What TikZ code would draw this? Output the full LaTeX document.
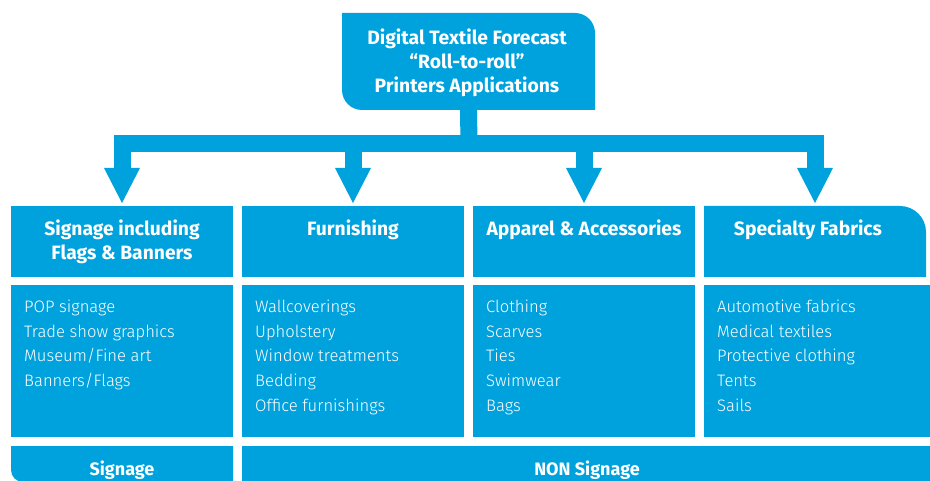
\documentclass[tikz,border=0pt]{standalone}
\usepackage{fontspec}
\setmainfont{Fira Sans}
\newfontfamily\lightfont{Fira Sans Light}
\usetikzlibrary{arrows.meta}
\definecolor{hpblue}{RGB}{0,162,222}
\begin{document}
\begin{tikzpicture}[x=1pt,y=-1pt,
  shape0/.style={inner sep=0pt, outer sep=0pt, anchor=north west},
  hbox/.style={shape0, fill=hpblue, minimum width=222pt, minimum height=71pt},
  bbox/.style={shape0, fill=hpblue, minimum width=222pt, minimum height=152pt},
  htext/.style={text=white, font=\bfseries\fontsize{19.3}{24}\selectfont, anchor=base, inner sep=0pt},
  stext/.style={htext, font=\bfseries\fontsize{18}{24}\selectfont},
  btext/.style={text=white, font=\lightfont\fontsize{16.6}{24}\selectfont, anchor=base west, inner sep=0pt},
  fat/.style={draw=hpblue, line width=17pt, line join=miter},
  bigtip/.tip={Triangle[width=36pt,length=35pt,line width=0pt]}]
\useasboundingbox (0,0) rectangle (930,481);

% top box
\node[inner sep=0pt, outer sep=0pt, minimum width=253pt, minimum height=97pt] (top) at (468.5,61.5) {};
\fill[hpblue] (top.north west) -- ([xshift=-20pt]top.north east)
  arc[start angle=90,end angle=0,radius=20pt] -- (top.south east)
  -- ([xshift=20pt]top.south west) arc[start angle=270,end angle=180,radius=20pt] -- cycle;
\node[htext] (t1) at (467,45) {Digital Textile Forecast};
\node[htext] (t2) at (467,69) {“Roll-to-roll”};
\node[htext] (t3) at (467,93) {Printers Applications};

% header boxes
\node[hbox] (h1) at (11,206) {};
\node[hbox] (h2) at (242,206) {};
\node[hbox] (h3) at (473,206) {};
\node[hbox, fill=none] (h4) at (704,206) {};
\fill[hpblue] (h4.south west) -- (h4.north west) -- ([xshift=-26pt]h4.north east)
  arc[start angle=90,end angle=0,radius=26pt] -- (h4.south east) -- cycle;

\node[htext] (h1a) at (122,236) {Signage including};
\node[htext] (h1b) at (122,260) {Flags \& Banners};
\node[htext] (h2a) at (353,236) {Furnishing};
\node[htext] (h3a) at (584,236) {Apparel \& Accessories};
\node[htext] (h4a) at (808,236) {Specialty Fabrics};

% body boxes
\node[bbox] (b1) at (11,285) {};
\node[bbox] (b2) at (242,285) {};
\node[bbox] (b3) at (473,285) {};
\node[bbox, minimum width=226pt] (b4) at (704,285) {};

\foreach \t [count=\i] in {POP signage, Trade show graphics, Museum/Fine art, Banners/Flags}
  \node[btext] (b1l\i) at (24,{313+24.5*(\i-1)}) {\t};
\foreach \t [count=\i] in {Wallcoverings, Upholstery, Window treatments, Bedding, Office furnishings}
  \node[btext] (b2l\i) at (255,{313+24.5*(\i-1)}) {\t};
\foreach \t [count=\i] in {Clothing, Scarves, Ties, Swimwear, Bags}
  \node[btext] (b3l\i) at (486,{313+24.5*(\i-1)}) {\t};
\foreach \t [count=\i] in {Automotive fabrics, Medical textiles, Protective clothing, Tents, Sails}
  \node[btext] (b4l\i) at (717,{313+24.5*(\i-1)}) {\t};

% bottom row
\node[shape0, minimum width=222pt, minimum height=36pt] (s1) at (11,446) {};
\fill[hpblue] (s1.north west) -- (s1.north east) -- (s1.south east)
  -- ([xshift=12pt]s1.south west) arc[start angle=270,end angle=180,radius=12pt] -- cycle;
\node[shape0, fill=hpblue, minimum width=688pt, minimum height=36pt] (s2) at (242,446) {};
\node[stext] (s1t) at (122,475) {Signage};
\node[stext] (s2t) at (587,475) {NON Signage};

% connectors
\coordinate (jn) at (469,143.5);
\draw[fat] (top.south) -- (jn);
\draw[fat, {bigtip}-{bigtip}] ([yshift=3pt]h1.north) |- (jn) -| ([yshift=3pt]h4.north);
\draw[fat, -{bigtip}] (h2.north |- jn) -- ([yshift=3pt]h2.north);
\draw[fat, -{bigtip}] (h3.north |- jn) -- ([yshift=3pt]h3.north);
\end{tikzpicture}
\end{document}
